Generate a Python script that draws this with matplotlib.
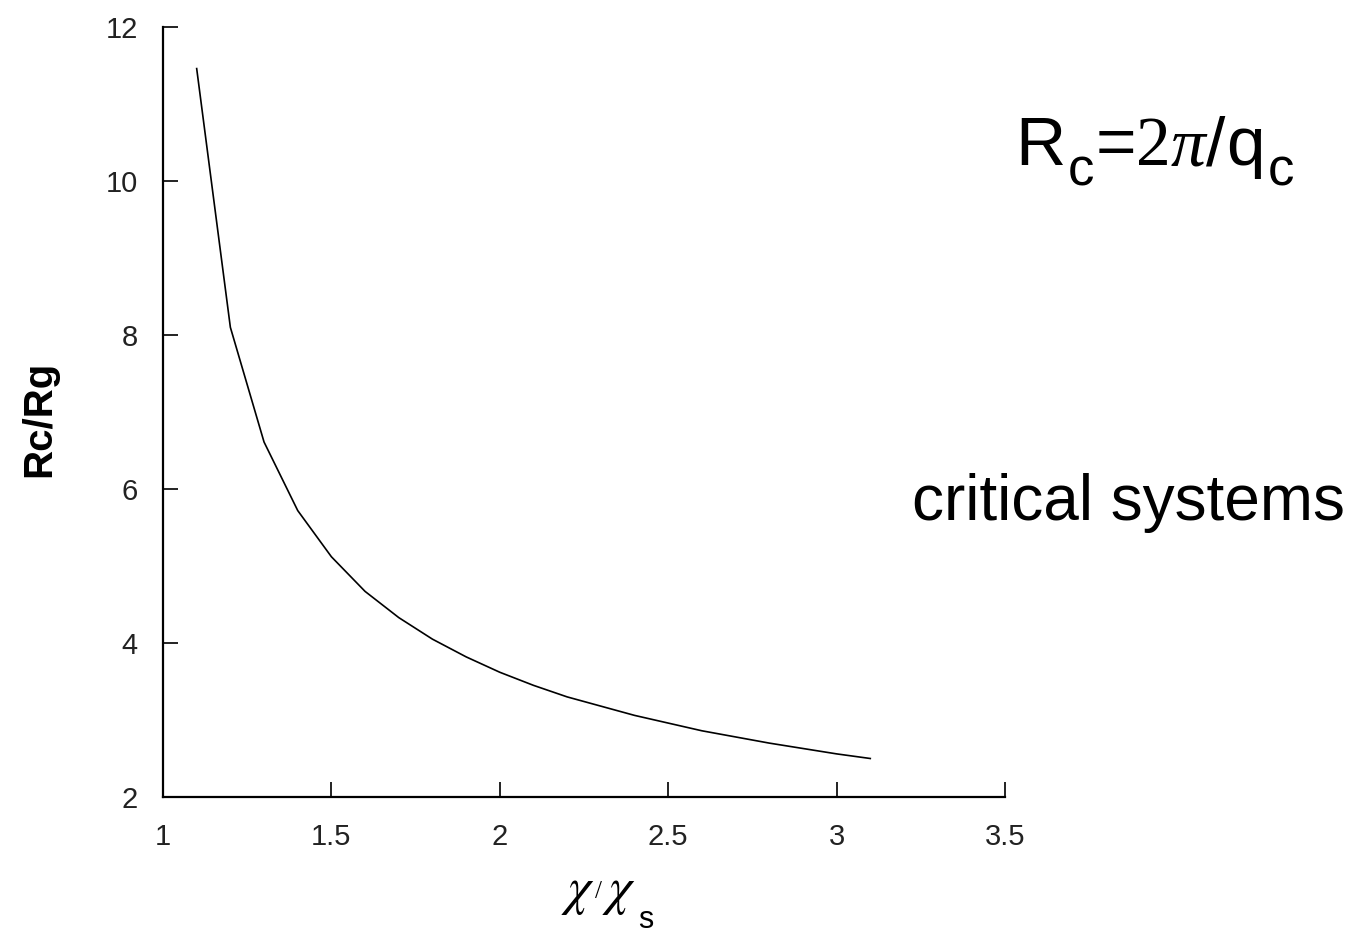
import numpy as np
import matplotlib
matplotlib.use("Agg")
import matplotlib.pyplot as plt

plt.rcParams["font.family"] = ["Liberation Sans", "DejaVu Sans"]

# chi / chi_s
chi_ratio = [1.1, 1.2, 1.3, 1.4, 1.5, 1.6, 1.7, 1.8, 1.9, 2.0, 2.1,
             2.2, 2.3, 2.4, 2.5, 2.6, 2.7, 2.8, 2.9, 3.0, 3.1]
# Rc / Rg
rc_rg = [11.46, 8.10, 6.61, 5.72, 5.12, 4.67, 4.33, 4.05, 3.82, 3.62, 3.45,
         3.30, 3.18, 3.06, 2.96, 2.86, 2.78, 2.70, 2.63, 2.56, 2.50]

xticks = [1, 1.5, 2, 2.5, 3, 3.5]
xticklabels = ["1", "1.5", "2", "2.5", "3", "3.5"]
yticks = [2, 4, 6, 8, 10, 12]

W, H = 1353, 935
fig = plt.figure(figsize=(W / 100, H / 100), dpi=100)
ax = fig.add_axes([163 / W, 1 - 797 / H, (1005 - 163) / W, (797 - 27) / H])

ax.plot(chi_ratio, rc_rg, color="black", lw=1.2)

ax.set_xlim(1, 3.5)
ax.set_ylim(2, 12)
ax.spines["top"].set_visible(False)
ax.spines["right"].set_visible(False)
ax.spines["left"].set_linewidth(1.6)
ax.spines["bottom"].set_linewidth(1.6)

ax.set_xticks(xticks)
ax.set_xticklabels(xticklabels)
ax.set_yticks(yticks)
ax.tick_params(axis="both", direction="in", length=11, width=1.4, labelsize=21, colors="#222222")
ax.tick_params(axis="x", pad=19)
ax.tick_params(axis="y", pad=18)
# no tick mark at the corner on the x axis
ax.xaxis.get_major_ticks()[0].tick1line.set_visible(False)

fig.text(39 / W, 1 - 419 / H, "Rc/Rg", fontsize=29, fontweight="bold",
         rotation=90, ha="center", va="center")

renderer = fig.canvas.get_renderer()


def chain(x0, y0, pieces):
    # pieces: (text, size, family, style, dy in px, gap in px)
    x = x0
    for txt, size, fam, style, dy, gap in pieces:
        t = fig.text(x / W, 1 - (y0 + dy) / H, txt, fontsize=size, family=fam,
                     style=style, ha="left", va="baseline", math_fontfamily="stix")
        bb = t.get_window_extent(renderer)
        x = bb.x1 + gap


chain(1015, 165, [
    ("R", 50, "Liberation Sans", "normal", 0, 2),
    ("c", 38, "Liberation Sans", "normal", 20, 2),
    ("=", 50, "Liberation Sans", "normal", 0, 0),
    ("2", 50, "Liberation Serif", "normal", 0, 0),
    ("\u03c0", 50, "Liberation Serif", "italic", 0, 0),
    ("/", 50, "Liberation Sans", "normal", 0, 1),
    ("q", 50, "Liberation Sans", "normal", 0, 3),
    ("c", 38, "Liberation Sans", "normal", 20, 0),
])

chain(561, 904, [
    (r"$\chi$", 38, "Liberation Serif", "normal", 0, 0),
    ("/", 18, "Liberation Serif", "normal", -6, 0),
    (r"$\chi$", 38, "Liberation Serif", "normal", 0, 2),
    ("s", 22, "Liberation Sans", "normal", 24, 0),
])

fig.text(1128 / W, 1 - 503 / H, "critical systems", fontsize=46, ha="center", va="center")

fig.savefig("out.png", dpi=100, facecolor="white")
